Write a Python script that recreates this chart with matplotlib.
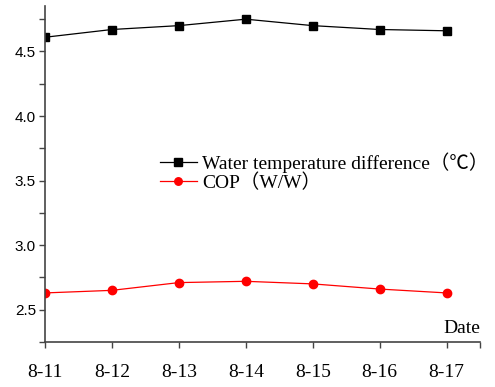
import numpy as np
import matplotlib
matplotlib.use('Agg')
import matplotlib.pyplot as plt

# data
dates = ['8-11', '8-12', '8-13', '8-14', '8-15', '8-16', '8-17']
temp_diff = [4.61, 4.67, 4.70, 4.75, 4.70, 4.67, 4.66]
cop = [2.63, 2.65, 2.71, 2.72, 2.70, 2.66, 2.63]

serif = ['Liberation Serif', 'Noto Sans CJK SC']

fig = plt.figure(figsize=(4.95, 3.87), dpi=100)
ax = fig.add_axes([45 / 495, 45 / 387, 435 / 495, 336 / 387])

x = np.arange(len(dates))
ax.plot(x, temp_diff, color='black', lw=0.9, marker='s', ms=6,
        label='Water temperature difference（℃）')
ax.plot(x, cop, color='red', lw=0.9, marker='o', ms=6,
        label='COP（W/W）')

ax.set_xlim(0, 6.5)
ax.set_ylim(2.295, 4.852)
ax.set_xticks(x)
ax.set_xticks(x[:-1] + 0.5, minor=True)
ax.set_xticks([6.5], minor=True)
ax.set_xticklabels(dates, family=serif, fontsize=14)
ax.set_yticks([2.5, 3.0, 3.5, 4.0, 4.5])
ax.set_yticks(np.arange(2.25, 4.9, 0.25), minor=True)
ax.set_yticklabels(['2.5', '3.0', '3.5', '4.0', '4.5'], family='Liberation Sans', fontsize=11)

for s in ['top', 'right']:
    ax.spines[s].set_visible(False)
for s in ['left', 'bottom']:
    ax.spines[s].set_color('#444444')
    ax.spines[s].set_linewidth(1.2)

ax.tick_params(axis='y', which='both', direction='out', length=4, width=1, color='#444444', pad=2.5)
ax.tick_params(axis='x', which='both', direction='out', length=4, width=1, color='#444444', pad=12)

ax.text(1.0, 0.015, 'Date', transform=ax.transAxes, ha='right', va='bottom',
        family=serif, fontsize=14)

ax.legend(loc='upper left', bbox_to_anchor=(0.264, 0.565), frameon=False,
          borderaxespad=0, borderpad=0, handlelength=1.9, handletextpad=0.26,
          labelspacing=0.05, prop={'family': serif, 'size': 14}, markerscale=0.9)

fig.savefig('out.png', dpi=100)
